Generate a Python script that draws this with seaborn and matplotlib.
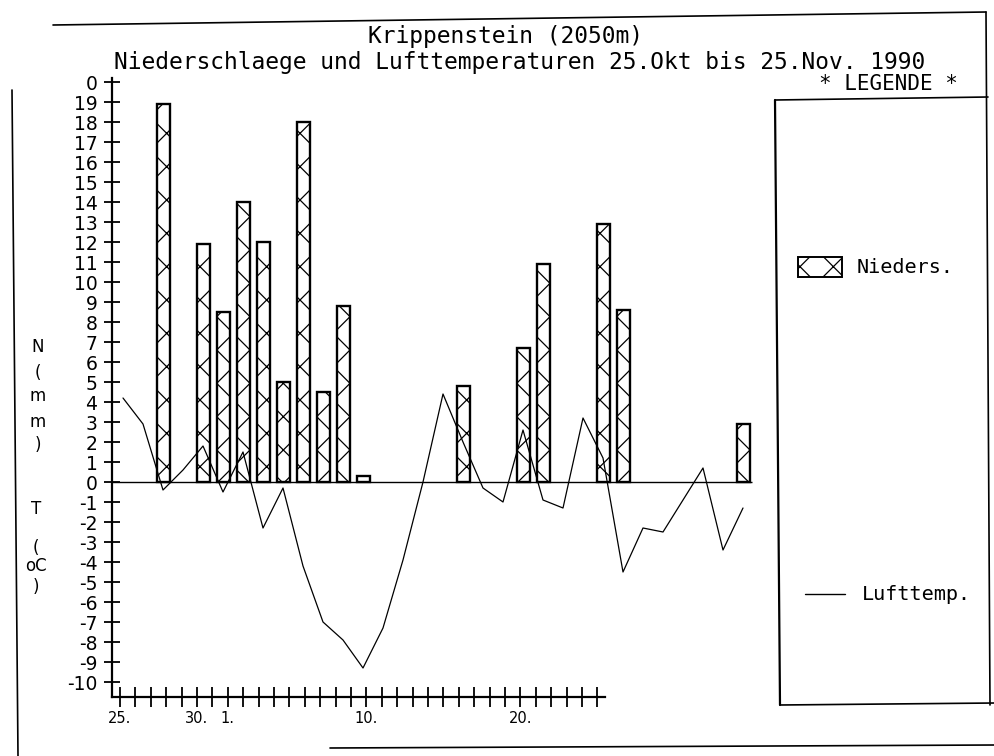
import matplotlib
matplotlib.use("Agg")
import matplotlib.pyplot as plt
import seaborn as sns
from matplotlib.lines import Line2D
from matplotlib.patches import Rectangle

# ---------------- data ----------------
title_1 = "Krippenstein (2050m)"
title_2 = "Niederschlaege und Lufttemperaturen 25.Okt bis 25.Nov. 1990"
legend_title = "* LEGENDE *"
legend_bar_label = "Nieders."
legend_line_label = "Lufttemp."

# day index 0 = 25. Okt ... 31 = 25. Nov
precip_days = [2, 4, 5, 6, 7, 8, 9, 10, 11, 12, 17, 20, 21, 24, 25, 31]
precip_mm = [18.9, 11.9, 8.5, 14.0, 12.0, 5.0, 18.0, 4.5, 8.8, 0.3,
             4.8, 6.7, 10.9, 12.9, 8.6, 2.9]

temp_days = list(range(32))
temp_c = [4.2, 2.9, -0.4, 0.6, 1.8, -0.5, 1.5, -2.3, -0.3, -4.2,
          -7.0, -7.9, -9.3, -7.3, -3.9, 0.0, 4.4, 2.0, -0.3, -1.0,
          2.6, -0.9, -1.3, 3.2, 1.2, -4.5, -2.3, -2.5, -0.9, 0.7,
          -3.4, -1.3]

x_tick_count = 32
x_tick_labels = {0: "25.", 5: "30.", 7: "1.", 16: "10.", 26: "20."}
y_tick_values = list(range(-10, 21))
y_tick_labels = ["0" if v == 20 else str(v) for v in y_tick_values]
ylabel_n = ["N", "(", "m", "m", ")"]
ylabel_t = ["T", "(", "oC", ")"]

# ---------------- style ----------------
sns.set_style("ticks")
plt.rcParams["font.family"] = ["DejaVu Sans"]
plt.rcParams["text.color"] = "black"
plt.rcParams["xtick.color"] = "black"
plt.rcParams["ytick.color"] = "black"
plt.rcParams["hatch.linewidth"] = 0.9
plt.rcParams["axes.linewidth"] = 1.6

W, H = 995, 756
fig = plt.figure(figsize=(W / 100, H / 100), dpi=100)


def fx(x):
    return x / W


def fy(y):
    return 1 - y / H


# axes: left 112px, right 763px, top 78px, bottom 697px
ax = fig.add_axes([fx(112), fy(697), (763 - 112) / W, (697 - 78) / H])
ax.set_facecolor("white")

sns.barplot(x=precip_days, y=precip_mm, native_scale=True, width=0.65,
            color="white", edgecolor="black", linewidth=1.7,
            errorbar=None, ax=ax, zorder=2)
for p in ax.patches:
    p.set_hatch("x")
    p.set_facecolor("white")

sns.lineplot(x=temp_days, y=temp_c, color="black", linewidth=0.9,
             ax=ax, zorder=3)

ax.hlines(0, -0.55, 31.45, color="black", linewidth=1.0, zorder=1)

ax.set_xlim(-0.55, 32.0)
ax.set_ylim(-10.75, 20.2)

# date ticks (drawn on the printer's own tick spacing)
tick_start, tick_step = -0.15, 0.77
xt = [tick_start + tick_step * k for k in range(x_tick_count)]
ax.set_xticks(xt)
ax.set_xticklabels([x_tick_labels.get(k, "") for k in range(x_tick_count)])
ax.set_yticks(y_tick_values)
ax.set_yticklabels(y_tick_labels)

ax.tick_params(axis="x", direction="inout", length=14, width=1.3, pad=3,
               labelsize=10.5, colors="black")
ax.tick_params(axis="y", direction="inout", length=11, width=1.3, pad=5,
               labelsize=13.5, colors="black")

for s in ["top", "right"]:
    ax.spines[s].set_visible(False)
ax.spines["bottom"].set_bounds(-0.55, xt[-1] + 0.4)
ax.spines["left"].set_color("black")
ax.spines["bottom"].set_color("black")
ax.set_xlabel("")
ax.set_ylabel("")

# vertical stacked axis labels
for ch, y in zip(ylabel_n, [347, 373, 396, 422, 445]):
    fig.text(fx(38), fy(y), ch, ha="center", va="center", fontsize=12,
             color="black")
for ch, y in zip(ylabel_t, [509, 548, 566, 587]):
    fig.text(fx(36), fy(y), ch, ha="center", va="center", fontsize=12,
             color="black")

# titles
mono = "DejaVu Sans Mono"
fig.text(fx(506), fy(37), title_1, ha="center", va="center",
         fontsize=16.5, family=mono, color="black")
fig.text(fx(520), fy(62), title_2, ha="center", va="center",
         fontsize=16.5, family=mono, color="black")
fig.text(fx(888), fy(84), legend_title, ha="center", va="center",
         fontsize=15, family=mono, color="black")


# frame lines (figure pixel coordinates)
def fline(x0, y0, x1, y1, lw=1.2):
    fig.add_artist(Line2D([fx(x0), fx(x1)], [fy(y0), fy(y1)],
                          transform=fig.transFigure, color="black", lw=lw))


fline(53, 25, 986, 12)          # outer top
fline(986, 12, 990, 705)        # outer right / legend right
fline(12, 90, 18, 756)          # outer left
fline(330, 748, 995, 745)       # outer bottom
fline(775, 100, 988, 97)        # legend top
fline(775, 100, 780, 705, 1.6)  # legend left
fline(780, 705, 995, 703)       # legend bottom

# legend entries
fig.add_artist(Rectangle((fx(798), fy(277)), (842 - 798) / W, 20 / H,
                         transform=fig.transFigure, facecolor="white",
                         edgecolor="black", hatch="x", lw=1.4))
fig.text(fx(857), fy(267), legend_bar_label, ha="left", va="center",
         fontsize=14.5, family=mono, color="black")
fline(805, 594, 845, 594, 1.0)
fig.text(fx(862), fy(594), legend_line_label, ha="left", va="center",
         fontsize=14.5, family=mono, color="black")

fig.savefig("out.png", dpi=100, facecolor="white")
